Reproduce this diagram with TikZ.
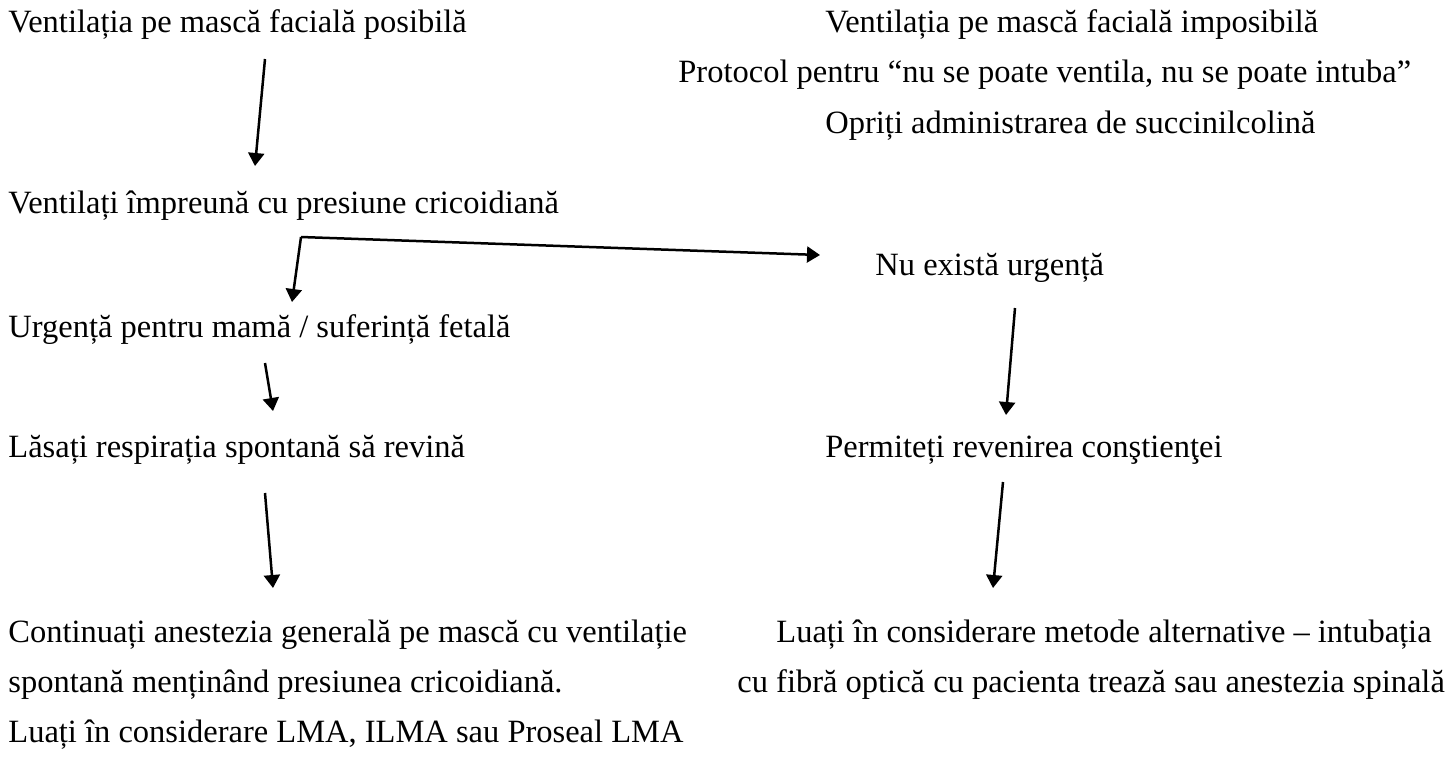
\documentclass[tikz,border=0pt]{standalone}
\usepackage{fontspec}
\setmainfont{Liberation Serif}
\usetikzlibrary{arrows.meta}
\begin{document}
\begin{tikzpicture}[x=0.5pt,y=-0.5pt,
  txt/.style={anchor=base west, inner sep=0pt, font=\fontsize{16.25pt}{19pt}\selectfont},
  arr/.style={line width=1.25pt, -{Triangle[length=6.5pt,width=8pt]}}]
\useasboundingbox (0,0) rectangle (1456,772);
% left column
\node[txt] (l1) at (8,32) {Ventilația pe mască facială posibilă};
\node[txt] (l2) at (8,213) {Ventilați împreună cu presiune cricoidiană};
\node[txt] (l3) at (8,337) {Urgență pentru mamă / suferință fetală};
\node[txt] (l4) at (8,457) {Lăsați respirația spontană să revină};
\node[txt] (l5) at (8,642) {Continuați anestezia generală pe mască cu ventilație};
\node[txt] (l6) at (8,692) {spontană menținând presiunea cricoidiană.};
\node[txt] (l7) at (8,742) {Luați în considerare LMA, ILMA sau Proseal LMA};
% right column
\node[txt] (r1) at (825,32) {Ventilația pe mască facială imposibilă};
\node[txt] (r2) at (678,82) {Protocol pentru “nu se poate ventila, nu se poate intuba”};
\node[txt] (r3) at (825,133) {Opriți administrarea de succinilcolină};
\node[txt] (r4) at (875,275) {Nu există urgență};
\node[txt] (r5) at (825,457) {Permiteți revenirea conştienţei};
\node[txt] (r6) at (776,642) {Luați în considerare metode alternative – intubația};
\node[txt] (r7) at (737,692) {cu fibră optică cu pacienta trează sau anestezia spinală};
% arrow end points
\coordinate (a1s) at (265,59);   \coordinate (a1e) at (255,166);
\coordinate (a2c) at (301,237);  \coordinate (a2r) at (820,255);
\coordinate (a2d) at (292,302);
\coordinate (a3s) at (265,363);  \coordinate (a3e) at (273,411);
\coordinate (a4s) at (265,493);  \coordinate (a4e) at (273,588);
\coordinate (a5s) at (1015,308); \coordinate (a5e) at (1006,415);
\coordinate (a6s) at (1003,482); \coordinate (a6e) at (993,588);
\draw[arr] (a1s) -- (a1e);
\draw[arr] (a2c) -- (a2r);
\draw[arr] (a2c) -- (a2d);
\draw[arr] (a3s) -- (a3e);
\draw[arr] (a4s) -- (a4e);
\draw[arr] (a5s) -- (a5e);
\draw[arr] (a6s) -- (a6e);
\end{tikzpicture}
\end{document}
